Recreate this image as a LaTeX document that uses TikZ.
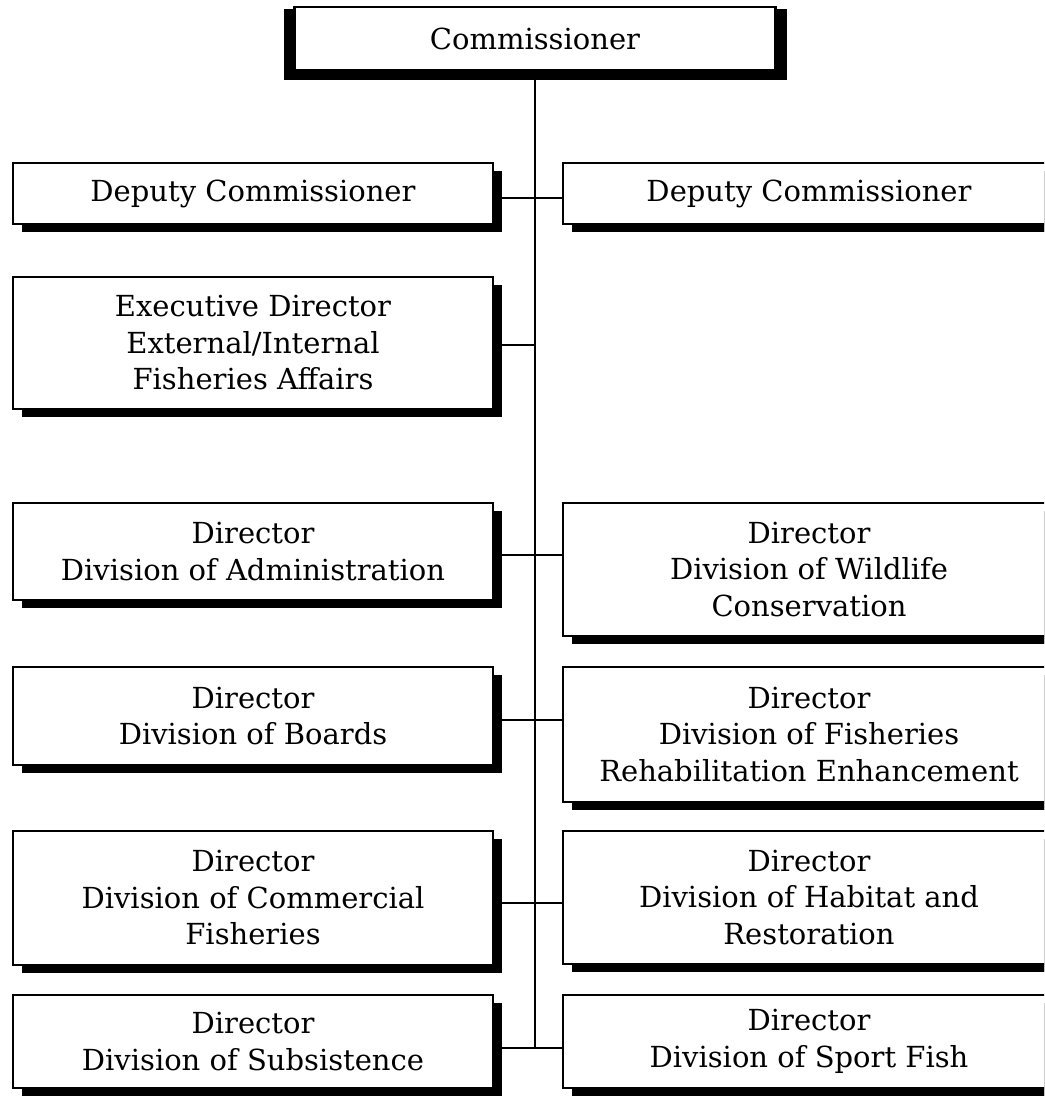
\documentclass[tikz,border=0pt]{standalone}
\usepackage{fontspec}
\setmainfont{DejaVu Serif}
\usetikzlibrary{shadows,backgrounds}
\begin{document}
\begin{tikzpicture}[x=1pt,y=-1pt,
  chartbox/.style={fill=white, inner sep=0pt,
    align=center, font=\fontsize{29}{36.5}\selectfont,
    drop shadow={shadow xshift=9pt, shadow yshift=-8pt, fill=black, opacity=1}},
  leftbox/.style={chartbox, draw=black, line width=2.4pt, minimum width=480pt},
  rightbox/.style={chartbox, minimum width=492pt},
  frame/.style={line width=2.4pt, line cap=rect},
  headbox/.style={draw=black, line width=2.4pt, fill=white, inner sep=0pt,
    font=\fontsize{29}{36.5}\selectfont, minimum width=481pt, minimum height=63pt},
  link/.style={line width=2.4pt}]
\useasboundingbox (0,0) rectangle (1044,1099);
\clip (0,0) rectangle (1044,1099);

% head of the department
\node[headbox] (comm) at (535,38.5) {Commissioner};

% left column
\node[leftbox, minimum height=61pt]  (depL)  at (253,193.5) {Deputy Commissioner};
\node[leftbox, minimum height=132pt] (exec)  at (253,343)   {Executive Director\\External/Internal\\Fisheries Affairs};
\node[leftbox, minimum height=97pt]  (adm)   at (253,551.5) {Director\\Division of Administration};
\node[leftbox, minimum height=98pt]  (brd)   at (253,716)   {Director\\Division of Boards};
\node[leftbox, minimum height=134pt] (comf)  at (253,898)   {Director\\Division of Commercial\\Fisheries};
\node[leftbox, minimum height=93pt]  (subs)  at (253,1041.5){Director\\Division of Subsistence};

% right column (boxes run off the right edge of the page)
\node[rightbox, minimum height=61pt]  (depR)  at (809,193.5) {Deputy Commissioner};
\node[rightbox, minimum height=133pt] (wild)  at (809,569.5) {Director\\Division of Wildlife\\Conservation};
\node[rightbox, minimum height=135pt] (rehab) at (809,734.5) {Director\\Division of Fisheries\\Rehabilitation Enhancement};
\node[rightbox, minimum height=133pt] (hab)   at (809,897.5) {Director\\Division of Habitat and\\Restoration};
\node[rightbox, minimum height=93pt]  (sport) at (809,1041.5){Director\\Division of Sport Fish};
\foreach \n in {depR,wild,rehab,hab,sport}{
  % continue fill and shadow past the page edge
  \fill[black] ([xshift=-20pt,yshift=-8pt]\n.north east) rectangle ([xshift=40pt,yshift=-8pt]\n.south east);
  \fill[white] ([xshift=-20pt]\n.north east) rectangle ([xshift=40pt]\n.south east);
  \draw[frame] ([xshift=40pt]\n.north east) -- (\n.north west) -- (\n.south west) -- ([xshift=40pt]\n.south east);
}

% junctions on the trunk line
\coordinate (j1) at (535,198);
\coordinate (j2) at (535,345);
\coordinate (j3) at (535,555);
\coordinate (j4) at (535,720);
\coordinate (j5) at (535,903);
\coordinate (j6) at (535,1048);

\begin{scope}[on background layer]
  \fill[white] (0,0) rectangle (1044,1099);
  % heavy frame around the commissioner box
  \fill[black] ([xshift=-9pt,yshift=-3pt]comm.north west) rectangle ([xshift=10pt,yshift=-9pt]comm.south east);
  \draw[link] (comm.south) -- (j6);
  \draw[link] (depL.east |- j1) -- (depR.west |- j1);
  \draw[link] (exec.east |- j2) -- (j2);
  \draw[link] (adm.east |- j3) -- (wild.west |- j3);
  \draw[link] (brd.east |- j4) -- (rehab.west |- j4);
  \draw[link] (comf.east |- j5) -- (hab.west |- j5);
  \draw[link] (subs.east |- j6) -- (sport.west |- j6);
\end{scope}
\end{tikzpicture}
\end{document}
